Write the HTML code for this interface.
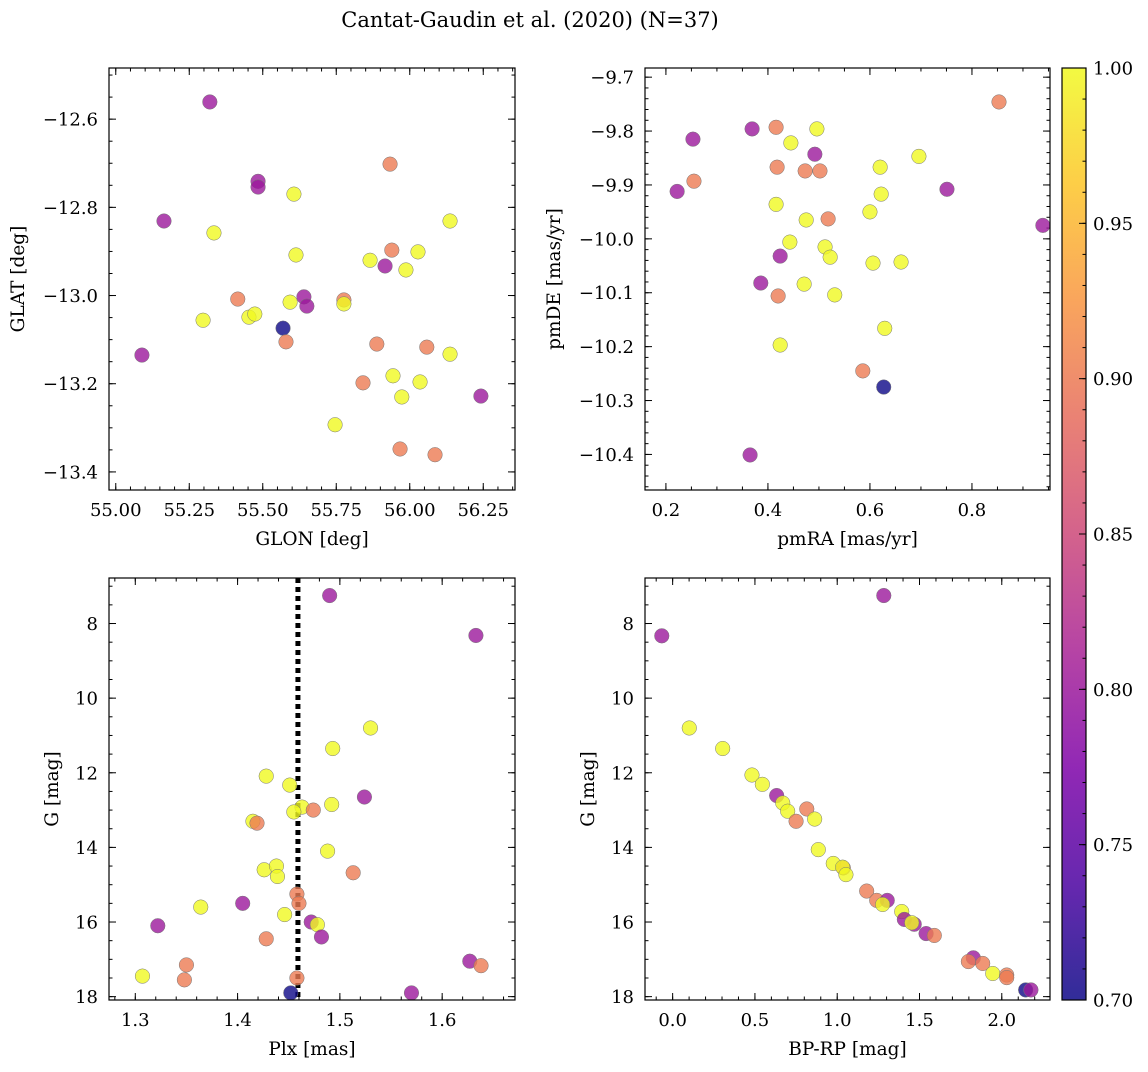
<!DOCTYPE html>
<html><head><meta charset="utf-8">
<style>
body{margin:0;background:#fff;}
svg text{font-family:"DejaVu Serif","Liberation Serif",serif;fill:#000;}
</style></head>
<body>
<svg id="fig" width="1148" height="1067" viewBox="0 0 1148 1067" xmlns="http://www.w3.org/2000/svg">
<text x="530" y="27" font-size="21" text-anchor="middle">Cantat-Gaudin et al. (2020) (N=37)</text>
<defs>
<linearGradient id="plasma" x1="0" y1="1" x2="0" y2="0">
<stop offset="0" stop-color="#0d0887"/><stop offset="0.125" stop-color="#4c02a1"/><stop offset="0.25" stop-color="#7e03a8"/><stop offset="0.375" stop-color="#a92395"/><stop offset="0.5" stop-color="#cc4778"/><stop offset="0.625" stop-color="#e66c5c"/><stop offset="0.75" stop-color="#f89540"/><stop offset="0.875" stop-color="#fdc527"/><stop offset="1" stop-color="#f0f921"/>
</linearGradient>
</defs>
<g id="root"></g>
</svg>
<script>
// Top-left: GLON / GLAT
const glonTL=[55.320,55.164,55.334,55.484,55.484,55.606,55.933,56.137,55.613,55.939,55.865,55.916,55.987,56.028,55.415,55.297,55.453,55.473,55.593,55.569,55.579,55.640,55.650,55.776,55.776,55.089,55.888,56.058,56.137,55.943,55.841,56.035,55.973,56.242,55.746,55.967,56.086];
const glatTL=[-12.561,-12.831,-12.858,-12.741,-12.754,-12.770,-12.702,-12.831,-12.908,-12.897,-12.920,-12.933,-12.942,-12.901,-13.008,-13.056,-13.049,-13.042,-13.015,-13.074,-13.105,-13.003,-13.024,-13.010,-13.019,-13.135,-13.110,-13.117,-13.133,-13.182,-13.198,-13.196,-13.230,-13.228,-13.293,-13.348,-13.361];
const probTL=[.8,.8,1,.8,.8,1,.9,1,1,.9,1,.8,1,1,.9,1,1,1,1,.7,.9,.8,.8,.9,1,.8,.9,.9,1,1,.9,1,1,.8,1,.9,.9];
// Top-right: pmRA / pmDE
const pmraTR=[0.853,0.253,0.369,0.416,0.496,0.445,0.492,0.222,0.255,0.418,0.473,0.502,0.620,0.696,0.751,0.622,0.416,0.475,0.518,0.600,0.939,0.443,0.512,0.522,0.424,0.606,0.661,0.386,0.471,0.420,0.531,0.629,0.424,0.586,0.627,0.365];
const pmdeTR=[-9.746,-9.815,-9.796,-9.793,-9.796,-9.822,-9.843,-9.912,-9.893,-9.867,-9.874,-9.874,-9.867,-9.847,-9.908,-9.917,-9.936,-9.965,-9.963,-9.950,-9.975,-10.006,-10.015,-10.034,-10.032,-10.045,-10.043,-10.082,-10.084,-10.106,-10.104,-10.166,-10.197,-10.245,-10.275,-10.401];
const probTR=[.9,.8,.8,.9,1,1,.8,.8,.9,.9,.9,.9,1,1,.8,1,1,1,.9,1,.8,1,1,1,.8,1,1,.8,1,.9,1,1,1,.9,.7,.8];
// Bottom-left: Plx / G
const plxBL=[1.490,1.633,1.530,1.493,1.428,1.451,1.524,1.492,1.463,1.455,1.474,1.415,1.419,1.488,1.426,1.438,1.439,1.513,1.458,1.460,1.364,1.405,1.446,1.472,1.478,1.482,1.322,1.428,1.350,1.348,1.307,1.458,1.627,1.638,1.452,1.570];
const gBL=[7.25,8.32,10.80,11.35,12.09,12.33,12.65,12.85,12.92,13.05,13.0,13.30,13.35,14.10,14.60,14.50,14.78,14.68,15.25,15.50,15.60,15.50,15.80,16.00,16.07,16.40,16.10,16.45,17.15,17.55,17.45,17.50,17.05,17.17,17.90,17.90];
const probBL=[.8,.8,1,1,1,1,.8,1,1,1,.9,1,.9,1,1,1,1,.9,.9,.9,1,.8,1,.8,1,.8,.8,.9,.9,.9,1,.9,.8,.9,.7,.8];
// Bottom-right: BP-RP / G
const bprpBR=[1.283,-0.066,0.101,0.304,0.482,0.545,0.632,0.669,0.699,0.815,0.863,0.750,0.885,0.976,1.037,1.033,1.053,1.179,1.240,1.304,1.276,1.392,1.408,1.468,1.453,1.540,1.590,1.827,1.797,1.884,1.945,2.030,2.030,2.145,2.177];
const gBR=[7.25,8.33,10.80,11.35,12.06,12.31,12.61,12.81,13.03,12.97,13.24,13.30,14.06,14.43,14.55,14.53,14.73,15.17,15.42,15.42,15.53,15.72,15.93,16.06,16.02,16.31,16.36,16.96,17.06,17.11,17.38,17.42,17.49,17.82,17.82];
const probBR=[.8,.8,1,1,1,1,.8,1,1,.9,1,.9,1,1,.9,1,1,.9,.9,.8,1,1,.8,.8,1,.8,.9,.8,.9,.9,1,.9,.9,.7,.8];
const plxRef=[1.459];
// ticks
const ticksGlon=[55.00,55.25,55.50,55.75,56.00,56.25];
const labelsGlon=["55.00","55.25","55.50","55.75","56.00","56.25"];
const ticksGlat=[-12.6,-12.8,-13.0,-13.2,-13.4];
const ticksPmra=[0.2,0.4,0.6,0.8];
const ticksPmde=[-9.7,-9.8,-9.9,-10.0,-10.1,-10.2,-10.3,-10.4];
const ticksPlx=[1.3,1.4,1.5,1.6];
const ticksG=[8,10,12,14,16,18];
const ticksBprp=[0.0,0.5,1.0,1.5,2.0];
const ticksCbar=[0.70,0.75,0.80,0.85,0.90,0.95,1.00];

const TF=18, LF=18.5;
const NS="http://www.w3.org/2000/svg";
const root=document.getElementById('root');
function mk(tag,attrs,parent){const e=document.createElementNS(NS,tag);for(const k in attrs)e.setAttribute(k,attrs[k]);(parent||root).appendChild(e);return e;}
const stops=[[0,[13,8,135]],[.125,[76,2,161]],[.25,[126,3,168]],[.375,[169,35,149]],[.5,[204,71,120]],[.625,[230,108,92]],[.75,[248,149,64]],[.875,[253,197,39]],[1,[240,249,33]]];
function plasma(v){let t=Math.max(0,Math.min(1,(v-0.7)/0.3));for(let i=1;i<stops.length;i++){if(t<=stops[i][0]){const a=stops[i-1],b=stops[i];const f=(t-a[0])/(b[0]-a[0]);const c=a[1].map((x,j)=>Math.round(x+(b[1][j]-x)*f));return `rgb(${c})`;}}return 'rgb(240,249,33)';}
function fmt(v,d){const s=Math.abs(v).toFixed(d);return (v<0?'\u2212':'')+s;}

function panel(o){
  const g=mk('g',{});
  
  
  const X=v=>o.x0+(v-o.xmin)/(o.xmax-o.xmin)*(o.x1-o.x0);
  const Y=v=>o.inv? o.y0+(v-o.ymin)/(o.ymax-o.ymin)*(o.y1-o.y0) : o.y1-(v-o.ymin)/(o.ymax-o.ymin)*(o.y1-o.y0);
  for(let v=Math.ceil(o.xmin/o.xminor)*o.xminor; v<=o.xmax; v+=o.xminor){const px=X(v);
    mk('line',{x1:px,x2:px,y1:o.y1,y2:o.y1-3.5,stroke:'#000','stroke-width':1},g);mk('line',{x1:px,x2:px,y1:o.y0,y2:o.y0+3.5,stroke:'#000','stroke-width':1},g);}
  for(let v=Math.ceil(o.ymin/o.yminor)*o.yminor; v<=o.ymax; v+=o.yminor){const py=Y(v);
    mk('line',{x1:o.x0,x2:o.x0+3.5,y1:py,y2:py,stroke:'#000','stroke-width':1},g);mk('line',{x1:o.x1,x2:o.x1-3.5,y1:py,y2:py,stroke:'#000','stroke-width':1},g);}
  o.xt.forEach((v,i)=>{const px=X(v);
    mk('line',{x1:px,x2:px,y1:o.y1,y2:o.y1-7,stroke:'#000','stroke-width':1},g);mk('line',{x1:px,x2:px,y1:o.y0,y2:o.y0+7,stroke:'#000','stroke-width':1},g);
    const t=mk('text',{x:px,y:o.y1+26,'font-size':TF,'text-anchor':'middle'},g);t.textContent=o.xl?o.xl[i]:fmt(v,o.xd);
    });
  o.yt.forEach(v=>{const py=Y(v);
    mk('line',{x1:o.x0,x2:o.x0+7,y1:py,y2:py,stroke:'#000','stroke-width':1},g);mk('line',{x1:o.x1,x2:o.x1-7,y1:py,y2:py,stroke:'#000','stroke-width':1},g);
    const t=mk('text',{x:o.x0-11,y:py+6.5,'font-size':TF,'text-anchor':'end'},g);t.textContent=fmt(v,o.yd);
    });
  if(o.vline){o.vline.forEach(v=>{const l=mk('line',{x1:X(v),x2:X(v),y1:o.y0,y2:o.y1,stroke:'#000','stroke-width':5,'stroke-dasharray':'5,4'},g);
    });}
  o.xs.forEach((v,i)=>{const c=mk('circle',{cx:X(v),cy:Y(o.ys[i]),r:7.3,fill:plasma(o.ps[i]),'fill-opacity':0.8,stroke:'#777','stroke-width':0.5},g);
    });
  const fr=mk('rect',{x:o.x0,y:o.y0,width:o.x1-o.x0,height:o.y1-o.y0,fill:'none',stroke:'#000','stroke-width':1.2},g);
  
  const xl=mk('text',{x:(o.x0+o.x1)/2,y:o.y1+55,'font-size':LF,'text-anchor':'middle'},g);xl.textContent=o.xlab;
  
  const yx=o.ylx, yy=(o.y0+o.y1)/2;
  const yl=mk('text',{x:yx,y:yy,'font-size':LF,'text-anchor':'middle',transform:`rotate(-90 ${yx} ${yy})`},g);yl.textContent=o.ylab;
  
}
panel({name:'glon-glat-panel',x0:109,x1:515,y0:68,y1:490,xmin:54.977,xmax:56.358,ymin:-13.441,ymax:-12.484,xminor:0.05,yminor:0.05,xt:ticksGlon,xl:labelsGlon,yt:ticksGlat,yd:1,xs:glonTL,ys:glatTL,ps:probTL,xlab:'GLON [deg]',ylab:'GLAT [deg]',ylx:24});
panel({name:'pm-panel',x0:645,x1:1050,y0:68,y1:490,xmin:0.159,xmax:0.953,ymin:-10.466,ymax:-9.683,xminor:0.05,yminor:0.02,xt:ticksPmra,xd:1,yt:ticksPmde,yd:1,xs:pmraTR,ys:pmdeTR,ps:probTR,xlab:'pmRA [mas/yr]',ylab:'pmDE [mas/yr]',ylx:560});
panel({name:'plx-g-panel',x0:109,x1:515,y0:578,y1:1000,xmin:1.2743,xmax:1.6712,ymin:6.78,ymax:18.09,inv:true,xminor:0.02,yminor:0.5,xt:ticksPlx,xd:1,yt:ticksG,yd:0,xs:plxBL,ys:gBL,ps:probBL,vline:plxRef,xlab:'Plx [mas]',ylab:'G [mag]',ylx:58});
panel({name:'cmd-panel',x0:645,x1:1050,y0:578,y1:1000,xmin:-0.168,xmax:2.293,ymin:6.78,ymax:18.09,inv:true,xminor:0.1,yminor:0.5,xt:ticksBprp,xd:1,yt:ticksG,yd:0,xs:bprpBR,ys:gBR,ps:probBR,xlab:'BP-RP [mag]',ylab:'G [mag]',ylx:594});
// colorbar
const cb=mk('g',{});


mk('rect',{x:1062,y:68,width:24,height:932,fill:'url(#plasma)','fill-opacity':0.85},cb);
const CY=v=>1000-(v-0.7)/0.3*932;
for(let k=70;k<=100;k++){const py=CY(k/100);mk('line',{x1:1086,x2:1082.5,y1:py,y2:py,stroke:'#000','stroke-width':1},cb);}
ticksCbar.forEach(v=>{const py=CY(v);mk('line',{x1:1086,x2:1079,y1:py,y2:py,stroke:'#000','stroke-width':1},cb);
  const t=mk('text',{x:1093,y:py+6.5,'font-size':TF},cb);t.textContent=v.toFixed(2);
  });
mk('rect',{x:1062,y:68,width:24,height:932,fill:'none',stroke:'#000','stroke-width':1.2},cb);
</script>
</body></html>
